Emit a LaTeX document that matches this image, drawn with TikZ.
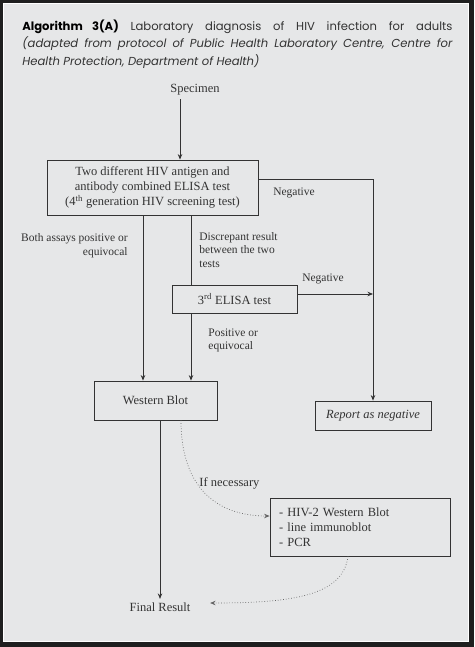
\documentclass[tikz,border=0pt]{standalone}
\usepackage{fontspec}
\setmainfont{Liberation Serif}
\newfontfamily\titlefont{Poppins}
\usepackage{tikz}
\usetikzlibrary{positioning,arrows.meta}
\definecolor{panel}{HTML}{E6E7E8}
\definecolor{ink}{HTML}{333333}

\begin{document}
\begin{tikzpicture}[x=1pt, y=-1pt, >={Stealth[length=5.5pt,width=4.5pt]}, line width=0.8pt, color=ink,
        font=\fontsize{12.5}{15}\selectfont,
        box/.style={draw=ink, rectangle, align=center, inner sep=2pt},
        lbl/.style={inner sep=0pt, align=left, font=\fontsize{11.5}{13.5}\selectfont},
        maybe/.style={draw=ink!75, dotted, line width=0.7pt}]
        % Frame
        \fill[black!88] (0,0) rectangle (474,647);
        \fill[white] (3,3) rectangle (469,642);
        \fill[panel] (4,4) rectangle (468,641);

        % Title
        \node[anchor=north west, inner sep=0pt, text width=430pt, align=justify,
              font=\titlefont\fontsize{11.6}{17.5}\selectfont] (title) at (22,19.5)
              {\textcolor{black}{\textbf{Algorithm 3(A)}} Laboratory diagnosis of HIV infection for adults\linebreak
               \textit{(adapted from protocol of Public Health Laboratory Centre, Centre for\linebreak
               Health Protection, Department of Health)}};

        % Boxes
        \node (spec) at (195,90) {Specimen};
        \node[box, minimum width=211pt, minimum height=55pt] (combo) at (152.5,187.5)
              {Two different HIV antigen and\\antibody combined ELISA test\\(4\textsuperscript{th} generation HIV screening test)};
        \node[box, minimum width=125pt, minimum height=28pt] (elisa) at (234.5,299) {3\textsuperscript{rd} ELISA test};
        \node[box, minimum width=123pt, minimum height=39pt] (wb) at (155.5,400.5) {Western Blot};
        \node[box, minimum width=116pt, minimum height=29pt] (report) at (373,415.5) {\itshape Report as negative};
        \node[box, minimum height=58pt, text width=162pt, inner xsep=9pt, align=left] (tests) at (360,527)
              {- HIV-2 Western Blot\\- line immunoblot\\- PCR};
        \node (final) at (160,607) {Final Result};

        % Labels
        \node[lbl, align=right, anchor=east] (both) at (128,245.5) {Both assays positive or\\equivocal};
        \node[lbl, anchor=north west] (disc) at (199,232) {Discrepant result\\between the two\\tests};
        \node[lbl, anchor=west] (pos) at (208,340.5) {Positive or\\equivocal};
        \node[lbl] (neg1) at (294,193) {Negative};
        \node[lbl] (neg2) at (323,279) {Negative};
        \node[anchor=west, inner sep=0pt] (ifnec) at (199,483) {If necessary};

        % Connections
        \coordinate (lcol) at (143,0);
        \coordinate (mcol) at (191,0);
        \coordinate (rcol) at (373,0);
        \draw[->] ([xshift=-15pt]spec.south) -- ([xshift=-15pt]spec.south |- combo.north);
        \draw[->] ([yshift=8.5pt]combo.east) -| (report.north);
        \draw[->] (combo.south -| lcol) -- (wb.north -| lcol);
        \draw (combo.south -| mcol) -- (elisa.north -| mcol);
        \draw[->] (elisa.south -| mcol) -- (wb.north -| mcol);
        \draw[->] ([yshift=5pt]elisa.east) -- ([yshift=5pt]elisa.east -| rcol);
        \draw[->] (wb.south -| final) -- (final.north);
        \draw[maybe, ->] ([xshift=25.5pt]wb.south) .. controls +(0,70) and +(-50,0) .. ([yshift=11pt]tests.west);
        \draw[maybe, ->] ([xshift=-12pt]tests.south) .. controls +(-5,40) and +(80,0) .. ([xshift=16pt,yshift=4pt]final.east);
\end{tikzpicture}
\end{document}
